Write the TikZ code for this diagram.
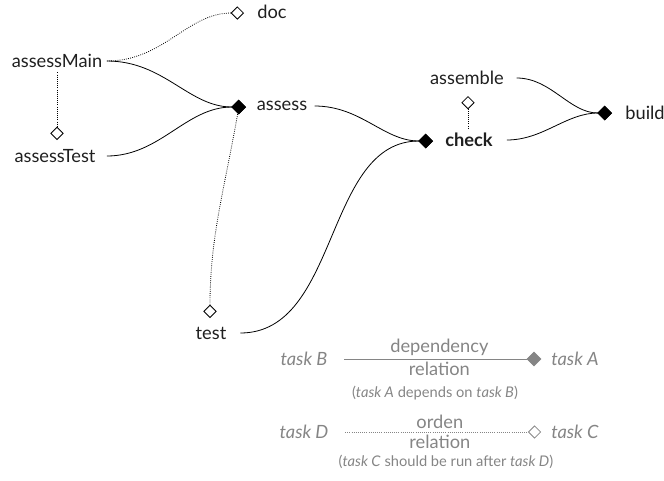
\documentclass[tikz,border=0pt]{standalone}
\usepackage{fontspec}
\setmainfont{Lato}
\usetikzlibrary{arrows.meta, positioning}
\colorlet{colorLegend}{black!48}
\colorlet{colorTask}{black!88}
\tikzset{
  task/.style={font=\fontsize{13.7}{16}\selectfont, text=colorTask},
  dep/.style={-{Diamond[length=11pt,width=11pt]}, line width=0.6pt},
  ord/.style={-{Diamond[open,length=10pt,width=10pt]}, densely dotted, line width=0.6pt},
  legend/.style={font=\fontsize{13.7}{16}\selectfont, text=colorLegend},
  note/.style={font=\fontsize{11}{13}\selectfont, text=colorLegend},
}

\begin{document}
\begin{tikzpicture}[x=0.75pt, y=-0.75pt]
\useasboundingbox (0,0) rectangle (664,480);
% tasks
\node[task] (assessMain) at (57,61) {assessMain};
\node[task] (assessTest) at (55,156) {assessTest};
\node[task] (doc) at (272,12) {doc};
\node[task] (assess) at (282,106) {assess};
\node[task] (test) at (211,333) {test};
\node[task, font=\fontsize{13.7}{16}\selectfont\bfseries] (check) at (469,140) {check};
\node[task] (assemble) at (467,78) {assemble};
\node[task] (build) at (645,113) {build};
% diamond ends
\coordinate (docIn) at (244,13);
\coordinate (assessTestIn) at (57,140);
\coordinate (assessIn) at (246,107);
\coordinate (assessOut) at (238,112);
\coordinate (testIn) at (210,318);
\coordinate (checkIn) at (433,141);
\coordinate (assembleIn) at (468,96);
\coordinate (buildIn) at (612,113);
% dependencies
\draw[dep] (assessMain.east) to[out=0, in=180] (assessIn);
\draw[dep, shorten <=5pt] (assessTest.east) to[out=0, in=180] (assessIn);
\draw[dep, shorten <=2pt] (assess.east) to[out=0, in=180] (checkIn);
\draw[dep, shorten <=7pt] (test.east) to[out=0, in=180] (checkIn);
\draw[dep, shorten <=6pt] (assemble.east) to[out=0, in=180] (buildIn);
\draw[dep, shorten <=7pt] (check.east) to[out=0, in=180] (buildIn);
% order
\draw[ord] (assessMain.east) to[out=0, in=180] (docIn);
\draw[ord] (assessMain.south -| assessTestIn) -- (assessTestIn);
\draw[ord] (assessOut) to[out=-100, in=90] (testIn);
\draw[ord] (check.north -| assembleIn) -- (assembleIn);
% legend
\node[legend] (taskB) at (304,359) {\textit{task B}};
\node[legend] (taskA) at (575,359) {\textit{task A}};
\draw[dep, draw=colorLegend, fill=colorLegend, shorten <=9pt, shorten >=4pt] (taskB.east) -- (taskA.west)
  node[midway, above=-1pt, legend] (depText) {dependency}
  node[midway, below=-1pt, legend] (depRel) {relation};
\node[note] (depNote) at (435,393) {(\textit{task A} depends on \textit{task B})};
\node[legend] (taskD) at (304,432) {\textit{task D}};
\node[legend] (taskC) at (575,432) {\textit{task C}};
\draw[ord, draw=colorLegend, shorten <=9pt, shorten >=4pt] (taskD.east) -- (taskC.west)
  node[midway, above=-1pt, legend] (ordText) {orden}
  node[midway, below=-1pt, legend] (ordRel) {relation};
\node[note] (ordNote) at (446,462) {(\textit{task C} should be run after \textit{task D})};
\end{tikzpicture}
\end{document}
